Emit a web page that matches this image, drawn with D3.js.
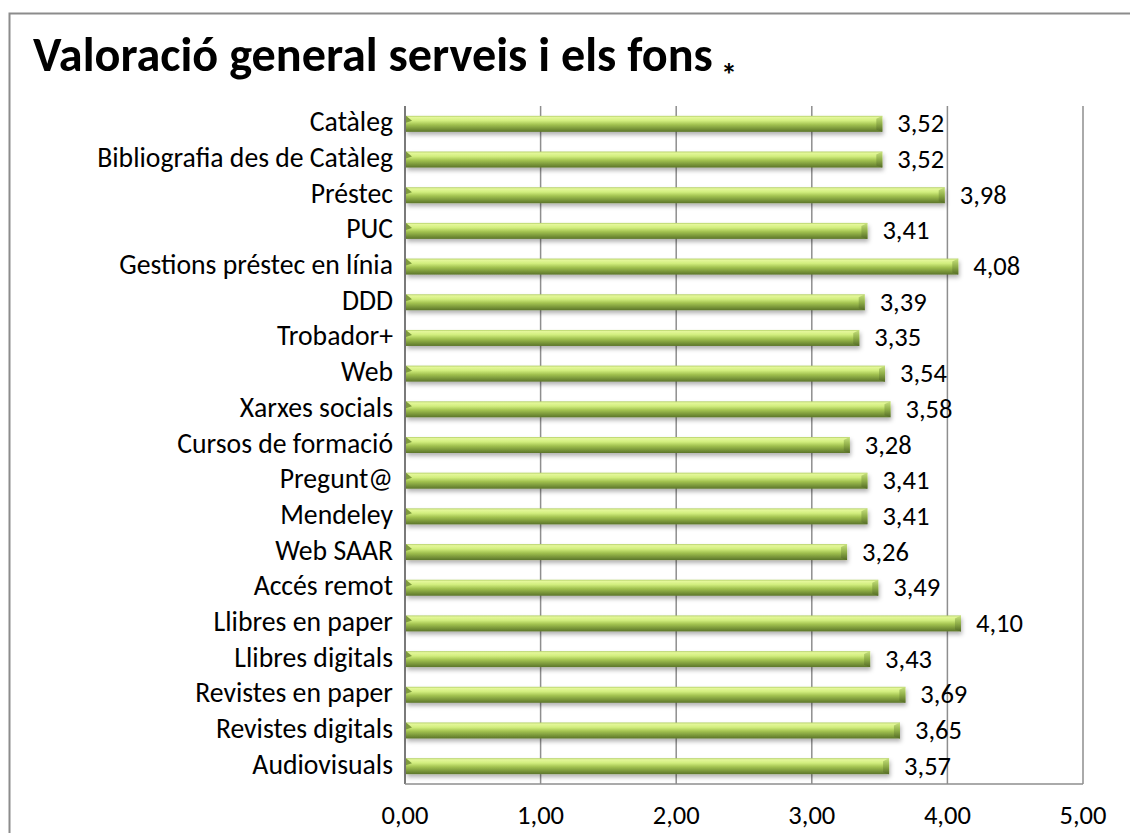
<!DOCTYPE html>
<html>
<head>
<meta charset="utf-8">
<script src="https://cdn.jsdelivr.net/npm/d3@7"></script>
<style>
  body { margin: 0; background: #fff; }
  svg text { font-family: Carlito, Calibri, "Open Sans", sans-serif; fill: #000; }
</style>
</head>
<body>
<svg id="chart" width="1130" height="833"></svg>
<script>
// Chart data
const categories = [
  "Catàleg", "Bibliografia des de Catàleg", "Préstec", "PUC",
  "Gestions préstec en línia", "DDD", "Trobador+", "Web", "Xarxes socials",
  "Cursos de formació", "Pregunt@", "Mendeley", "Web SAAR", "Accés remot",
  "Llibres en paper", "Llibres digitals", "Revistes en paper",
  "Revistes digitals", "Audiovisuals"
];
const values = [
  3.52, 3.52, 3.98, 3.41, 4.08, 3.39, 3.35, 3.54, 3.58, 3.28,
  3.41, 3.41, 3.26, 3.49, 4.10, 3.43, 3.69, 3.65, 3.57
];
const xTicks = [0, 1, 2, 3, 4, 5];
const titleText = "Valoració general serveis i els fons";

const fmt = v => v.toFixed(2).replace(".", ",");

const svg = d3.select("#chart");

// outer frame (runs off the right and bottom edge)
svg.append("rect")
  .attr("x", 9.5).attr("y", 13.5)
  .attr("width", 1140).attr("height", 840)
  .attr("fill", "none")
  .attr("stroke", "#8c8c8c")
  .attr("stroke-width", 2);

// font size that makes a text element reach a target width
function fitSize(node, size, target) {
  return size * target / node.getComputedTextLength();
}

// Title
const title = svg.append("text")
  .attr("x", 33).attr("y", 71)
  .attr("font-size", 40)
  .attr("font-weight", "bold")
  .text(titleText);
title.attr("font-size", fitSize(title.node(), 40, 680));
svg.append("text")
  .attr("x", 721).attr("y", 86)
  .attr("font-size", 32)
  .attr("font-weight", "bold")
  .text("*");

const margin = { top: 106, left: 405, right: 1083, bottom: 784 };

const x = d3.scaleLinear()
  .domain([0, 5])
  .range([margin.left, margin.right]);

const y = d3.scaleBand()
  .domain(categories)
  .range([margin.top, margin.bottom]);

// defs: gradients + shadow
const defs = svg.append("defs");
const grad = defs.append("linearGradient")
  .attr("id", "barGrad").attr("x1", 0).attr("y1", 0).attr("x2", 0).attr("y2", 1);
[
  [0, "#b3cf68"], [0.1, "#e4f79a"], [0.3, "#d2ee7e"],
  [0.55, "#a2c250"], [0.8, "#7a973a"], [1, "#5c752a"]
].forEach(([o, c]) => grad.append("stop").attr("offset", o).attr("stop-color", c));

const capGrad = defs.append("linearGradient")
  .attr("id", "capGrad").attr("x1", 0).attr("y1", 0).attr("x2", 0).attr("y2", 1);
[[0, "#c9e37f"], [0.5, "#8fae48"], [1, "#536a25"]]
  .forEach(([o, c]) => capGrad.append("stop").attr("offset", o).attr("stop-color", c));

const shadow = defs.append("filter")
  .attr("id", "shadow").attr("x", "-5%").attr("y", "-50%")
  .attr("width", "110%").attr("height", "250%");
shadow.append("feDropShadow")
  .attr("dx", 1).attr("dy", 3).attr("stdDeviation", 2)
  .attr("flood-color", "#000").attr("flood-opacity", 0.3);

// gridlines
svg.append("g")
  .selectAll("line")
  .data(xTicks)
  .join("line")
  .attr("x1", d => x(d)).attr("x2", d => x(d))
  .attr("y1", margin.top).attr("y2", margin.bottom)
  .attr("stroke", d => d === 0 ? "#7a7a7a" : "#8e8e8e")
  .attr("stroke-width", d => d === 0 ? 2 : 1.5);

// bottom edge of plot
svg.append("line")
  .attr("x1", margin.left).attr("x2", margin.right)
  .attr("y1", margin.bottom).attr("y2", margin.bottom)
  .attr("stroke", "#8e8e8e").attr("stroke-width", 1.5);

// bars
const barH = 16;
const bars = svg.append("g")
  .selectAll("g")
  .data(categories)
  .join("g")
  .attr("transform", d => `translate(0,${y(d) + y.bandwidth() / 2 - barH / 2})`)
  .attr("filter", "url(#shadow)");

bars.append("rect")
  .attr("x", x(0) + 1)
  .attr("width", (d, i) => x(values[i]) - x(0) - 1)
  .attr("height", barH)
  .attr("fill", "url(#barGrad)");

// bevelled right end
bars.append("path")
  .attr("d", (d, i) => {
    const xe = x(values[i]);
    return `M${xe - 6},${3} L${xe},0 L${xe},${barH} L${xe - 6},${barH - 2} Z`;
  })
  .attr("fill", "url(#capGrad)");

// small bevel at the left end
bars.append("path")
  .attr("d", `M${x(0) + 1},0 L${x(0) + 7},5 L${x(0) + 1},7 Z`)
  .attr("fill", "#7e9a3e");

// value labels
const valLabels = svg.append("g")
  .selectAll("text")
  .data(categories)
  .join("text")
  .attr("x", (d, i) => x(values[i]) + 15)
  .attr("y", d => y(d) + y.bandwidth() / 2 + 8.5)
  .attr("font-size", 22)
  .text((d, i) => fmt(values[i]));

// category labels
const catLabels = svg.append("g")
  .selectAll("text")
  .data(categories)
  .join("text")
  .attr("x", 393)
  .attr("y", d => y(d) + y.bandwidth() / 2 + 7.5)
  .attr("text-anchor", "end")
  .attr("font-size", 20)
  .text(d => d);

// x axis tick labels
const tickLabels = svg.append("g")
  .selectAll("text")
  .data(xTicks)
  .join("text")
  .attr("x", d => x(d))
  .attr("y", 824)
  .attr("text-anchor", "middle")
  .attr("font-size", 22)
  .text(d => fmt(d));

// match label widths to the reference
const longest = catLabels.filter(d => d === "Bibliografia des de Catàleg").node();
catLabels.attr("font-size", fitSize(longest, 20, 296));
const numSize = fitSize(tickLabels.filter(d => d === 0).node(), 22, 47);
tickLabels.attr("font-size", numSize);
valLabels.attr("font-size", numSize);
</script>
</body>
</html>
